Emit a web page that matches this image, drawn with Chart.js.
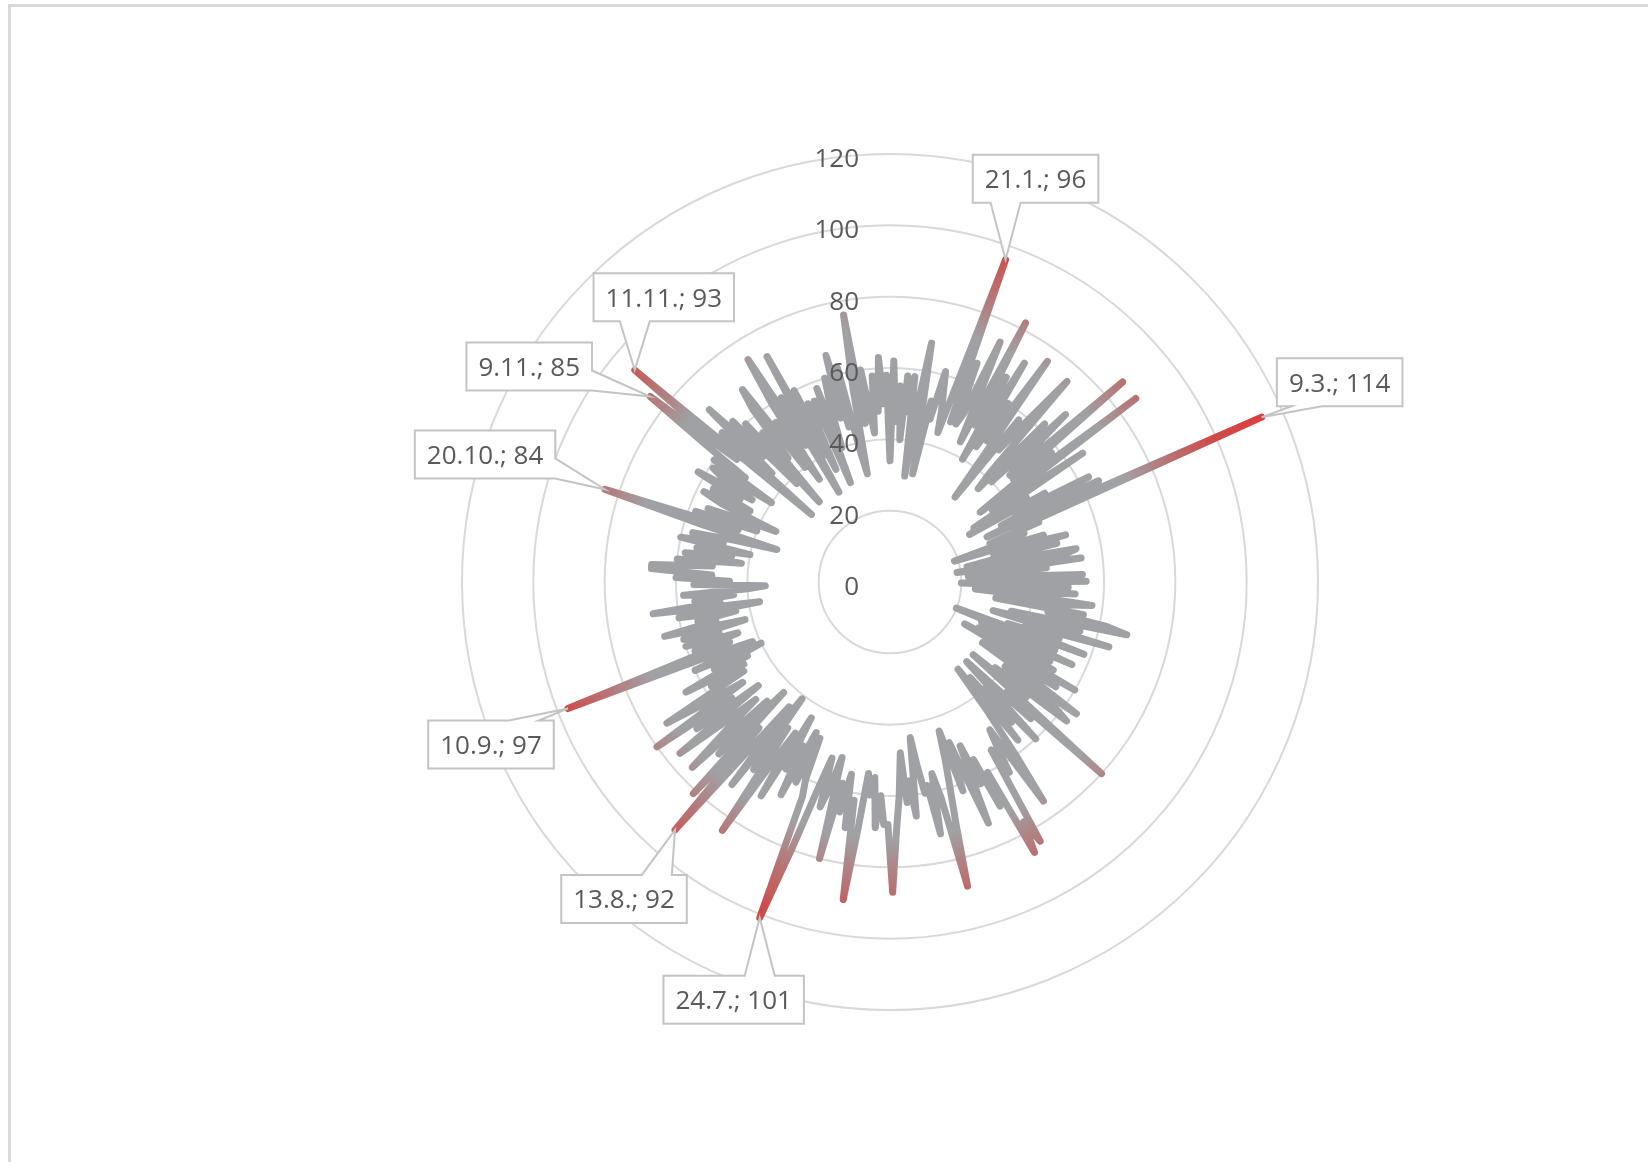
<!DOCTYPE html>
<html><head><meta charset="utf-8">
<script src="https://cdn.jsdelivr.net/npm/chart.js@4.4.1/dist/chart.umd.min.js"></script>
<style>
html,body{margin:0;padding:0;background:#fff;overflow:hidden;width:1648px;height:1162px;}
#frame{position:absolute;left:8px;top:4px;width:2000px;height:2000px;border:3px solid #d9d9d9;box-sizing:border-box;}
#wrap{position:absolute;left:0;top:0;width:1648px;height:1162px;}
</style></head><body>
<div id="frame"></div>
<div id="wrap"><canvas id="c" width="1648" height="1162"></canvas></div>
<script>
// ---- data ----
const monthDays = [31,28,31,30,31,30,31,31,30,31,30,31];
const jan = [34,62,45,55,40,58,48,58,30,50,68,45,31,52,47,61,55,50,44,60,96,48,66,48,52,74,56,44,82,50,66];
const feb = [40,72,45,60,48,76,45,30,58,48,60,75,42,36,62,40,68,50,45,86,45,58,32,86,42,35,65,28];
const mar = [45,26,50,40,63,35,65,30,114,38,45,30,40,30,19,45,35,51,30,48,28,22,53,50,19,54,30,44,22,25,54];
const apr = [28,55,20,50,35,52,24,40,57,48,30,55,45,62,68,35,55,30,64,40,50,35,58,20,50,28,56,33,50,28];
const may = [52,24,60,35,55,31,48,64,40,58,63,38,50,31,80,45,55,40,31,60,40,52,35,57,31,46,60,75,50,55,63];
const jun = [55,84,77,86,60,70,55,62,50,73,58,48,62,44,52,60,70,88,62,55,72,58,60,52,44,66,56,62,48,60];
const jul = [70,87,68,68,60,69,55,60,54,70,90,62,70,55,66,58,80,51,60,66,52,62,80,101,65,60,48,62,47,67,52];
const aug = [60,44,70,50,60,84,50,65,41,72,45,60,92,55,81,43,68,48,76,62,50,62,76,47,68,55,80,50,62,74,48];
const sep = [58,47,65,45,55,40,60,42,52,97,48,58,45,60,50,60,42,65,50,55,44,60,37,67,48,55,44,58,40,35];
const oct = [55,45,60,50,67,67,50,60,42,58,45,55,40,60,48,57,45,33,55,84,45,58,40,55,45,35,52,58,44,56,48];
const nov = [62,45,55,59,40,60,50,65,85,55,93,29,63,45,70,50,63,38,60,30,55,45,62,68,40,55,35,60,74,45];
const dec = [60,29,72,40,60,35,55,48,55,30,58,40,52,60,48,66,45,62,38,31,55,76,45,60,50,42,58,48,63,50,58];
const tickValues = [0,20,40,60,80,100,120];
const calloutDays = ['21.1.','9.3.','9.11.','20.10.','11.11.','10.9.','13.8.','24.7.'];

// ---- layout / style (not data) ----
const calloutLayout = [
  {dx:30, dy:-81, side:'bottom'},
  {dx:78, dy:-35, side:'bottom'},
  {dx:-121, dy:-30, side:'right'},
  {dx:-120, dy:-35, side:'right'},
  {dx:29, dy:-73, side:'bottom'},
  {dx:-77, dy:36, side:'top'},
  {dx:-51, dy:69, side:'top'},
  {dx:-26, dy:82, side:'top'}
];
const GRAY = '#a0a1a4';
const FONT = '26px "Open Sans", "Noto Sans", sans-serif';
const TEXT = '#595959';

const labels = [];
monthDays.forEach((n, m) => { for (let d = 1; d <= n; d++) labels.push(d + '.' + (m + 1) + '.'); });
const values = [].concat(jan, feb, mar, apr, may, jun, jul, aug, sep, oct, nov, dec);

function lineColor(context) {
  const chart = context.chart;
  const r = chart.scales.r;
  if (!chart.chartArea || !r || !r.drawingArea) return GRAY;
  const g = chart.ctx.createRadialGradient(r.xCenter, r.yCenter, 0, r.xCenter, r.yCenter, r.drawingArea);
  const f = v => Math.min(1, r.getDistanceFromCenterForValue(v) / r.drawingArea);
  g.addColorStop(0, GRAY);
  g.addColorStop(f(72), GRAY);
  g.addColorStop(f(86), '#b87272');
  g.addColorStop(f(98), '#cd4c4c');
  g.addColorStop(1, '#e63838');
  return g;
}

const overlay = {
  id: 'overlay',
  afterDatasetsDraw(chart) {
    const ctx = chart.ctx, r = chart.scales.r;
    ctx.save();
    ctx.font = FONT;
    ctx.fillStyle = TEXT;
    ctx.textAlign = 'right';
    ctx.textBaseline = 'alphabetic';
    tickValues.forEach(v => {
      const y = r.yCenter - r.getDistanceFromCenterForValue(v);
      ctx.fillText(String(v), r.xCenter - 31, y + 13);
    });
    const meta = chart.getDatasetMeta(0);
    calloutDays.forEach((lab, i) => {
      const idx = labels.indexOf(lab);
      const pt = meta.data[idx];
      const px = pt.x, py = pt.y;
      const text = lab + '; ' + values[idx];
      const L = calloutLayout[i];
      const tw = ctx.measureText(text).width;
      const w = tw + 24, h = 48;
      const cx = px + L.dx, cy = py + L.dy;
      const x0 = cx - w / 2, x1 = cx + w / 2, y0 = cy - h / 2, y1 = cy + h / 2;
      const clamp = (v, a, b) => Math.max(a, Math.min(b, v));
      ctx.beginPath();
      ctx.moveTo(x0, y0);
      if (L.side === 'top') {
        const bx = clamp(px, x0 + 30, x1 - 30);
        ctx.lineTo(bx - 15, y0); ctx.lineTo(px, py); ctx.lineTo(bx + 15, y0);
      }
      ctx.lineTo(x1, y0);
      if (L.side === 'right') {
        const by = clamp(py, y0 + 10, y1 - 10);
        ctx.lineTo(x1, by - 10); ctx.lineTo(px, py); ctx.lineTo(x1, by + 10);
      }
      ctx.lineTo(x1, y1);
      if (L.side === 'bottom') {
        const bx = clamp(px, x0 + 30, x1 - 30);
        ctx.lineTo(bx + 15, y1); ctx.lineTo(px, py); ctx.lineTo(bx - 15, y1);
      }
      ctx.lineTo(x0, y1);
      if (L.side === 'left') {
        const by = clamp(py, y0 + 10, y1 - 10);
        ctx.lineTo(x0, by + 10); ctx.lineTo(px, py); ctx.lineTo(x0, by - 10);
      }
      ctx.closePath();
      ctx.fillStyle = '#ffffff';
      ctx.fill();
      ctx.lineWidth = 2;
      ctx.strokeStyle = '#c4c4c4';
      ctx.lineJoin = 'miter';
      ctx.stroke();
      ctx.fillStyle = TEXT;
      ctx.textAlign = 'center';
      ctx.fillText(text, cx, cy + 9.5);
      ctx.textAlign = 'right';
    });
    ctx.restore();
  }
};

new Chart(document.getElementById('c'), {
  type: 'radar',
  data: {
    labels: labels,
    datasets: [{
      data: values,
      borderColor: lineColor,
      borderWidth: 7,
      borderJoinStyle: 'round',
      borderCapStyle: 'round',
      pointRadius: 0,
      pointHoverRadius: 0,
      fill: false,
      tension: 0
    }]
  },
  options: {
    responsive: false,
    animation: false,
    layout: { padding: { left: 300, right: 168, top: 154, bottom: 152 } },
    plugins: { legend: { display: false }, tooltip: { enabled: false } },
    scales: {
      r: {
        min: 0, max: 120,
        ticks: { stepSize: 20, display: false },
        grid: { color: '#d9d9d9', lineWidth: 2, circular: true },
        angleLines: { display: false },
        pointLabels: { display: false }
      }
    }
  },
  plugins: [overlay]
});
</script>
</body></html>
